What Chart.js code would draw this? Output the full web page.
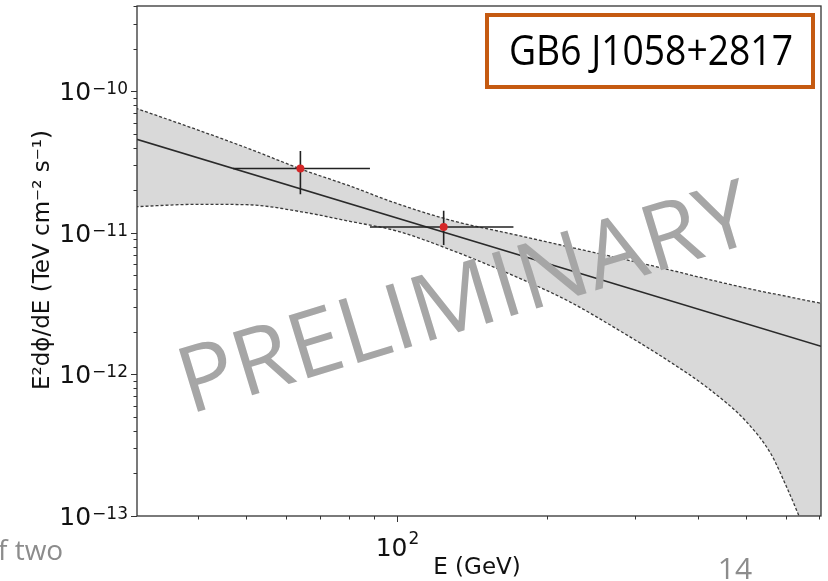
<!DOCTYPE html>
<html>
<head>
<meta charset="utf-8">
<script src="https://cdn.jsdelivr.net/npm/chart.js@4.4.0/dist/chart.umd.min.js"></script>
<style>
    html, body { margin: 0; padding: 0; background: #fff; }
    #wrap { width: 828px; height: 581px; position: relative; }
</style>
</head>
<body>
<div id="wrap"><canvas id="sed" width="828" height="581"></canvas></div>
<script>
// Energies in GeV, fluxes E^2 dN/dE in TeV cm^-2 s^-1
const pointE = [64.1, 124];
const pointF = [2.85e-11, 1.10e-11];
const pointELo = [47, 88.3];
const pointEHi = [88.3, 171];
const pointFLo = [1.87e-11, 8.2e-12];
const pointFHi = [3.79e-11, 1.43e-11];

// best fit power law
const fitE = [30, 705];
const fitF = [4.6e-11, 1.58e-12];

// butterfly (confidence band)
const bandE = [30, 40, 50, 65, 80, 100, 130, 170, 220, 280, 350, 420, 500, 560, 600, 630, 660, 705];
const bandUp = [7.6e-11, 5.32e-11, 3.99e-11, 2.78e-11, 2.16e-11, 1.61e-11, 1.21e-11, 9.8e-12, 7.98e-12,
    6.59e-12, 5.49e-12, 4.69e-12, 4.07e-12, 3.74e-12, 3.57e-12, 3.44e-12, 3.33e-12, 3.18e-12];
const bandLow = [1.53e-11, 1.59e-11, 1.58e-11, 1.40e-11, 1.21e-11, 1.03e-11, 7.43e-12, 5.03e-12, 3.30e-12,
    2.02e-12, 1.24e-12, 7.95e-13, 4.63e-13, 2.74e-13, 1.64e-13, 1.10e-13, 7.2e-14, 3.5e-14];

// axis ticks
const yTickVals = [1e-13, 1e-12, 1e-11, 1e-10];
const yTickExp = ['\u221213', '\u221212', '\u221211', '\u221210'];
const xTickVals = [100];
const xTickExp = ['2'];

const toXY = (xs, ys) => xs.map((v, i) => ({ x: v, y: ys[i] }));

// error bars as broken line segments
const errSegs = [];
pointE.forEach((e, i) => {
    errSegs.push({ x: pointELo[i], y: pointF[i] }, { x: pointEHi[i], y: pointF[i] }, { x: e, y: null });
    errSegs.push({ x: e, y: pointFLo[i] }, { x: e, y: pointFHi[i] }, { x: e, y: null });
});

const MATH = '"DejaVu Sans", sans-serif';
const SLIDE = '"Open Sans", Lato, sans-serif';

function powLabel(ctx, x, yBase, exp, big, small, rise, align) {
    ctx.font = big + 'px ' + MATH;
    const w1 = ctx.measureText('10').width;
    ctx.font = small + 'px ' + MATH;
    const w2 = ctx.measureText(exp).width;
    let x0 = align === 'right' ? x - w1 - w2 : x - (w1 + w2) / 2;
    ctx.textAlign = 'left';
    ctx.textBaseline = 'alphabetic';
    ctx.font = big + 'px ' + MATH;
    ctx.fillText('10', x0, yBase);
    ctx.font = small + 'px ' + MATH;
    ctx.fillText(exp, x0 + w1 + 1, yBase - rise);
}

const decor = {
    id: 'decor',
    afterDraw(chart) {
        const { ctx, chartArea: a, scales: { x, y } } = chart;
        ctx.save();
        ctx.strokeStyle = '#333';
        ctx.fillStyle = '#111';
        ctx.lineWidth = 1.3;
        ctx.strokeRect(a.left, a.top, a.right - a.left, a.bottom - a.top);

        // tick marks
        ctx.lineWidth = 1;
        for (let d = -14; d <= -9; d++) {
            for (let m = 1; m <= 9; m++) {
                const v = m * Math.pow(10, d);
                if (v < y.min * 0.999 || v > y.max * 1.001) continue;
                const py = Math.round(y.getPixelForValue(v)) + 0.5;
                const len = m === 1 ? 6 : 3.5;
                ctx.beginPath(); ctx.moveTo(a.left - len, py); ctx.lineTo(a.left, py); ctx.stroke();
            }
        }
        for (let d = 1; d <= 2; d++) {
            for (let m = 1; m <= 9; m++) {
                const v = m * Math.pow(10, d);
                if (v < x.min || v > x.max) continue;
                const px = Math.round(x.getPixelForValue(v)) + 0.5;
                const len = m === 1 ? 6 : 3.5;
                ctx.beginPath(); ctx.moveTo(px, a.bottom); ctx.lineTo(px, a.bottom + len); ctx.stroke();
            }
        }

        // tick labels
        yTickVals.forEach((v, i) => {
            const py = y.getPixelForValue(v);
            powLabel(ctx, 127, py + 9, yTickExp[i], 25, 17, 6, 'right');
        });
        xTickVals.forEach((v, i) => {
            const px = x.getPixelForValue(v);
            powLabel(ctx, px, 556, xTickExp[i], 25, 17, 12, 'center');
        });

        // axis titles
        ctx.font = '23px ' + MATH;
        ctx.textAlign = 'center';
        ctx.textBaseline = 'alphabetic';
        ctx.fillText('E (GeV)', 477, 574);
        ctx.save();
        ctx.translate(49, 260);
        ctx.rotate(-Math.PI / 2);
        ctx.fillText('E\u00b2d\u03d5/dE (TeV cm\u207b\u00b2 s\u207b\u00b9)', 0, 0);
        ctx.restore();

        // slide leftovers
        ctx.fillStyle = '#8c8c8c';
        ctx.font = '28px ' + SLIDE;
        ctx.textAlign = 'left';
        ctx.fillText('f two', -2, 560);
        ctx.font = '30px ' + SLIDE;
        ctx.textAlign = 'center';
        ctx.fillText('14', 735, 579);

        // watermark
        ctx.save();
        ctx.translate(464, 296);
        ctx.rotate(-17 * Math.PI / 180);
        ctx.font = '92px ' + SLIDE;
        const ww = ctx.measureText('PRELIMINARY').width;
        ctx.scale(595 / ww, 1);
        ctx.fillStyle = '#a6a6a6';
        ctx.textAlign = 'center';
        ctx.fillText('PRELIMINARY', 0, 33);
        ctx.restore();

        // source name box
        ctx.fillStyle = '#fff';
        ctx.fillRect(487, 15, 326, 72);
        ctx.strokeStyle = '#c55a11';
        ctx.lineWidth = 4;
        ctx.strokeRect(487, 15, 326, 72);
        ctx.save();
        ctx.font = '42px ' + SLIDE;
        const tw = ctx.measureText('GB6 J1058+2817').width;
        ctx.translate(651, 65);
        ctx.scale(284 / tw, 1);
        ctx.fillStyle = '#000';
        ctx.textAlign = 'center';
        ctx.fillText('GB6 J1058+2817', 0, 0);
        ctx.restore();

        ctx.restore();
    }
};

new Chart(document.getElementById('sed'), {
    type: 'scatter',
    data: {
        datasets: [
            {
                data: toXY(bandE, bandUp),
                showLine: true,
                fill: '+1',
                backgroundColor: '#d9d9d9',
                borderColor: '#3a3a3a',
                borderWidth: 1.3,
                borderDash: [3, 2],
                pointRadius: 0,
                cubicInterpolationMode: 'monotone',
                order: 5
            },
            {
                data: toXY(bandE, bandLow),
                showLine: true,
                borderColor: '#3a3a3a',
                borderWidth: 1.3,
                borderDash: [3, 2],
                pointRadius: 0,
                cubicInterpolationMode: 'monotone',
                order: 4
            },
            {
                data: toXY(fitE, fitF),
                showLine: true,
                borderColor: '#2a2a2a',
                borderWidth: 1.6,
                pointRadius: 0,
                order: 3
            },
            {
                data: errSegs,
                showLine: true,
                spanGaps: false,
                borderColor: '#222',
                borderWidth: 1.6,
                pointRadius: 0,
                order: 2
            },
            {
                data: toXY(pointE, pointF),
                backgroundColor: '#d62728',
                borderWidth: 0,
                pointRadius: 4,
                order: 1
            }
        ]
    },
    options: {
        responsive: false,
        animation: false,
        layout: { padding: { left: 137, right: 7, top: 6, bottom: 65 } },
        plugins: {
            legend: { display: false },
            tooltip: { enabled: false }
        },
        scales: {
            x: { type: 'logarithmic', min: 30.2, max: 705, display: false },
            y: { type: 'logarithmic', min: 1e-13, max: 4e-10, display: false }
        }
    },
    plugins: [decor]
});
</script>
</body>
</html>
